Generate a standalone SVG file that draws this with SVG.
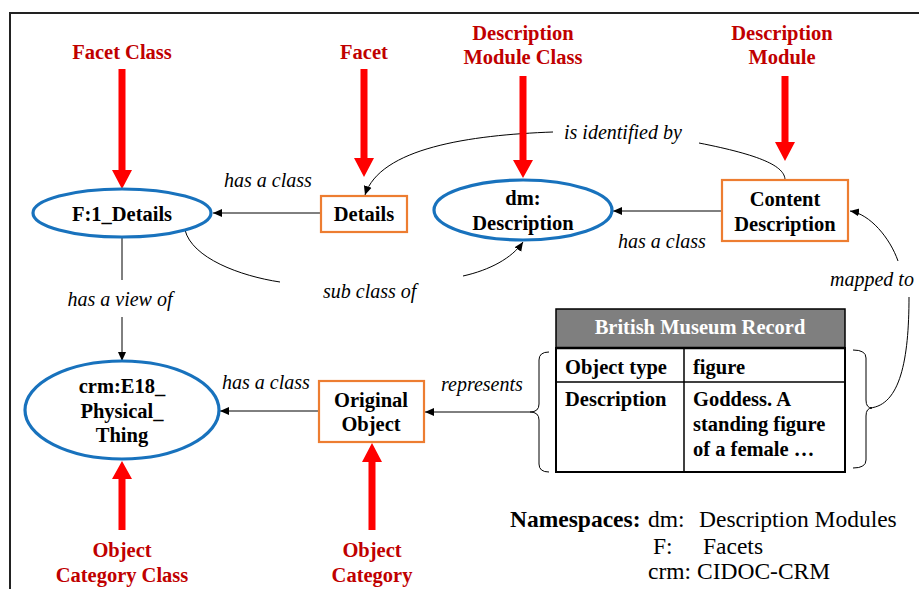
<svg xmlns="http://www.w3.org/2000/svg" width="919" height="589" viewBox="0 0 919 589" font-family="'Liberation Serif', 'Times New Roman', Tinos, serif">
  <style>
    text { font-family: 'Liberation Serif', 'Times New Roman', Tinos, serif; }
    .lbl { font-weight: bold; font-size: 20.5px; fill: #c00000; text-anchor: middle; }
    .nt { font-weight: bold; font-size: 20.5px; fill: #000; text-anchor: middle; }
    .el { font-style: italic; font-size: 20px; fill: #000; }
    .ns { font-size: 23.5px; fill: #000; }
    .cls { fill: #fff; stroke: #1872bd; stroke-width: 3.2; }
    .inst { fill: #fff; stroke: #ed7d31; stroke-width: 2.2; }
    .edge { fill: none; stroke: #000; stroke-width: 1; }
  </style>
  <defs>
    <marker id="ah" markerWidth="10" markerHeight="10" refX="9" refY="5" orient="auto" markerUnits="userSpaceOnUse">
      <path d="M0,1 L9,5 L0,9 Z" fill="#000"/>
    </marker>
  </defs>

  <rect width="919" height="589" fill="#fff"/>
  <!-- frame -->
  <path d="M10,589 L10,13 L919,13" fill="none" stroke="#222" stroke-width="2"/>

  <!-- connectors -->
  <g id="connectors">
    <line class="edge" x1="321" y1="213" x2="213" y2="213" marker-end="url(#ah)"/>
    <line class="edge" x1="722" y1="211" x2="613" y2="211" marker-end="url(#ah)"/>
    <line class="edge" x1="319" y1="411" x2="220" y2="411" marker-end="url(#ah)"/>
    <line class="edge" x1="122" y1="237" x2="122" y2="280"/>
    <line class="edge" x1="122" y1="317" x2="122" y2="361" marker-end="url(#ah)"/>
    <path class="edge" d="M185,230 C192,258 240,276 280,282"/>
    <path class="edge" d="M463,276 C490,270 512,258 523,242" marker-end="url(#ah)"/>
    <path class="edge" d="M553,132 C470,135 380,148 365,195" marker-end="url(#ah)"/>
    <path class="edge" d="M699,143 C760,155 785,166 785,180"/>
    <path class="edge" d="M870,408 C900,405 909,360 909,297"/>
    <path class="edge" d="M898,261 C890,238 870,214 850,211" marker-end="url(#ah)"/>
    <line class="edge" x1="530" y1="412" x2="425" y2="412" marker-end="url(#ah)"/>
    <!-- braces round the record -->
    <path class="edge" d="M549,352 Q539,352 539,360 L539,404 Q539,412 530,412 Q539,412 539,420 L539,464 Q539,472 549,472"/>
    <path class="edge" d="M853,350 Q866,350 866,358 L866,400 Q866,408 872,408 Q866,408 866,416 L866,460 Q866,468 853,468"/>
  </g>
  <text class="el" x="224" y="187">has a class</text>
  <text class="el" x="618" y="248">has a class</text>
  <text class="el" x="222" y="389">has a class</text>
  <text class="el" x="120" y="306" text-anchor="middle">has a view of</text>
  <text class="el" x="323" y="298">sub class of</text>
  <text class="el" x="564" y="139">is identified by</text>
  <text class="el" x="830" y="286">mapped to</text>
  <text class="el" x="441" y="391">represents</text>

  <!-- category arrows -->
  <g id="category-arrows" fill="#ff0000">
    <polygon points="118.5,69 125.5,69 125.5,170 132,170 122,189 112,170 118.5,170"/>
    <polygon points="360.5,69 367.5,69 367.5,158 374,158 364,177 354,158 360.5,158"/>
    <polygon points="519.5,76 526.5,76 526.5,160 533,160 523,178 513,160 519.5,160"/>
    <polygon points="781.5,76 788.5,76 788.5,142 795,142 785,161 775,142 781.5,142"/>
    <polygon points="118.5,530 125.5,530 125.5,479 132,479 122,461 112,479 118.5,479"/>
    <polygon points="368.5,530 375.5,530 375.5,462 382,462 372,443 362,462 368.5,462"/>
  </g>

  <!-- category labels -->
  <text class="lbl" x="122" y="59">Facet Class</text>
  <text class="lbl" x="364" y="59">Facet</text>
  <text class="lbl" x="523" y="40">Description</text>
  <text class="lbl" x="523" y="64">Module Class</text>
  <text class="lbl" x="782" y="40">Description</text>
  <text class="lbl" x="782" y="64">Module</text>
  <text class="lbl" x="122" y="557">Object</text>
  <text class="lbl" x="122" y="582">Category Class</text>
  <text class="lbl" x="372" y="557">Object</text>
  <text class="lbl" x="372" y="582">Category</text>

  <!-- nodes -->
  <g id="f1-details">
    <ellipse class="cls" cx="122" cy="213" rx="89" ry="24"/>
  </g>
  <text class="nt" x="122" y="221">F:1_Details</text>
  <g id="details">
    <rect class="inst" x="321" y="196" width="86" height="36"/>
  </g>
  <text class="nt" x="364" y="221">Details</text>
  <g id="dm-description">
    <ellipse class="cls" cx="523" cy="210" rx="89" ry="30"/>
  </g>
  <text class="nt" x="523" y="205">dm:</text>
  <text class="nt" x="523" y="230">Description</text>
  <g id="content-description">
    <rect class="inst" x="722" y="180" width="126" height="61"/>
  </g>
  <text class="nt" x="785" y="206">Content</text>
  <text class="nt" x="785" y="231">Description</text>
  <g id="crm-e18">
    <ellipse class="cls" cx="122" cy="410" rx="97" ry="49"/>
  </g>
  <text class="nt" x="122" y="393">crm:E18_</text>
  <text class="nt" x="122" y="418">Physical_</text>
  <text class="nt" x="122" y="442">Thing</text>
  <g id="original-object">
    <rect class="inst" x="319" y="381" width="105" height="61"/>
  </g>
  <text class="nt" x="371" y="407">Original</text>
  <text class="nt" x="371" y="431">Object</text>

  <!-- record table -->
  <g id="bm-record">
    <rect x="556" y="309" width="289" height="39" fill="#7f7f7f" stroke="#000" stroke-width="1.5"/>
    <rect x="556" y="348" width="289" height="124" fill="#fff" stroke="#000" stroke-width="2"/>
    <line x1="556" y1="382" x2="845" y2="382" stroke="#000" stroke-width="1.5"/>
    <line x1="684" y1="348" x2="684" y2="472" stroke="#000" stroke-width="1.5"/>
    <line x1="556" y1="348" x2="845" y2="348" stroke="#000" stroke-width="2.5"/>
  </g>
  <text class="nt" x="700" y="334" style="fill:#fff">British Museum Record</text>
  <text class="nt" x="565" y="374" text-anchor="start" style="text-anchor:start">Object type</text>
  <text class="nt" x="693" y="374" style="text-anchor:start">figure</text>
  <text class="nt" x="565" y="406" style="text-anchor:start">Description</text>
  <text class="nt" x="693" y="406" style="text-anchor:start">Goddess. A</text>
  <text class="nt" x="693" y="431" style="text-anchor:start">standing figure</text>
  <text class="nt" x="693" y="456" style="text-anchor:start">of a female …</text>

  <!-- namespace legend -->
  <text class="ns" x="510" y="527" style="font-weight:bold">Namespaces:</text>
  <text class="ns" x="648" y="527">dm:</text>
  <text class="ns" x="699" y="527">Description Modules</text>
  <text class="ns" x="653" y="554">F:</text>
  <text class="ns" x="703" y="554">Facets</text>
  <text class="ns" x="648" y="579">crm:</text>
  <text class="ns" x="697" y="579">CIDOC-CRM</text>
</svg>
